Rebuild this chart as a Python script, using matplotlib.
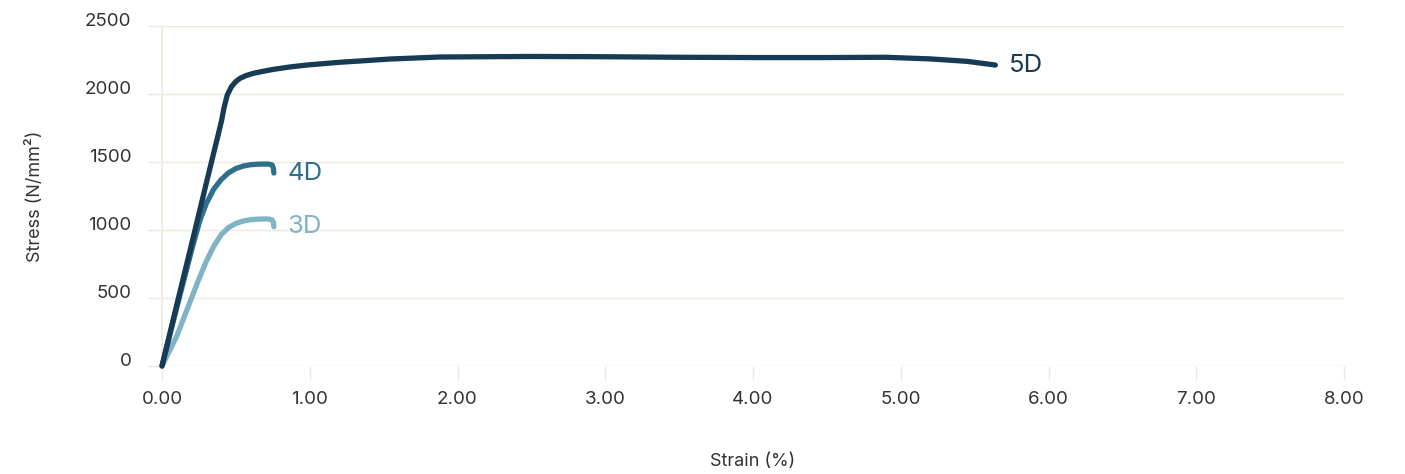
import numpy as np
import matplotlib.pyplot as plt

plt.rcParams['font.family'] = ['Inter', 'DejaVu Sans']

# stress-strain curves (strain %, stress N/mm2)
strain_5d = [0.0, 0.10, 0.20, 0.30, 0.38, 0.404, 0.42, 0.442, 0.47, 0.50, 0.528, 0.57, 0.618, 0.68,
             0.754, 0.86, 0.98, 1.20, 1.54, 1.88, 2.50, 3.00, 3.50, 4.00, 4.50, 4.90, 5.20, 5.45, 5.64]
stress_5d = [0, 450, 895, 1345, 1700, 1809, 1900, 1993, 2054, 2092, 2115, 2136, 2152, 2166,
             2181, 2198, 2213, 2233, 2257, 2272, 2276, 2274, 2270, 2268, 2268, 2270, 2258, 2240, 2213]

strain_4d = [0.0, 0.10, 0.20, 0.257, 0.30, 0.35, 0.40, 0.45, 0.50, 0.55, 0.60, 0.65, 0.70, 0.725,
             0.745, 0.754, 0.757]
stress_4d = [0, 430, 850, 1073, 1195, 1300, 1370, 1420, 1452, 1470, 1480, 1484, 1485, 1484,
             1478, 1455, 1419]

strain_3d = [0.0, 0.05, 0.10, 0.15, 0.20, 0.25, 0.30, 0.35, 0.40, 0.45, 0.50, 0.55, 0.60, 0.65,
             0.70, 0.725, 0.745, 0.754, 0.757]
stress_3d = [0, 110, 220, 360, 500, 640, 770, 880, 965, 1018, 1048, 1066, 1076, 1080,
             1081, 1080, 1074, 1055, 1024]

series = [
    ('5D', strain_5d, stress_5d, '#173a55'),
    ('4D', strain_4d, stress_4d, '#2e6f8c'),
    ('3D', strain_3d, stress_3d, '#80b3c6'),
]
grid_color = '#efe9dc'
text_color = '#333333'

fig = plt.figure(figsize=(14.05, 4.74), dpi=100)
ax = fig.add_axes([162 / 1405, 1 - 366 / 474, (1344 - 162) / 1405, (366 - 26) / 474])

for name, x, y, color in reversed(series):
    ax.plot(x, y, color=color, lw=3.8, solid_capstyle='round', solid_joinstyle='round',
            clip_on=False, zorder=3)
    ax.annotate(name, xy=(x[-1], y[-1]), xytext=(10, 0), textcoords='offset points',
                color=color, fontsize=18.5, va='center', ha='left')

ax.set_xlim(0, 8)
ax.set_ylim(0, 2500)
ax.set_xticks(np.arange(0, 9, 1))
ax.set_xticklabels([f'{v:.2f}' for v in np.arange(0, 9, 1)])
ax.set_yticks(np.arange(0, 2501, 500))

for s in ['top', 'right', 'bottom']:
    ax.spines[s].set_visible(False)
ax.spines['left'].set_color(grid_color)
ax.spines['left'].set_linewidth(1.2)

ax.yaxis.grid(True, color=grid_color, lw=1.0)
ax.set_axisbelow(True)
ax.tick_params(axis='y', length=10, color=grid_color, width=1.0, pad=12,
               labelsize=13.5, labelcolor=text_color)
ax.tick_params(axis='x', length=10, color=grid_color, width=1.0, pad=8,
               labelsize=13.5, labelcolor=text_color)
for lab in ax.get_yticklabels():
    lab.set_verticalalignment('baseline')

ax.set_xlabel('Strain (%)', fontsize=13, color=text_color, va='center')
ax.set_ylabel('Stress (N/mm²)', fontsize=13, color=text_color, va='center')
ax.xaxis.set_label_coords(0.5, (366 - 462) / 340)
ax.yaxis.set_label_coords((35 - 162) / 1182, 0.5)

fig.savefig('out.png', dpi=100)
